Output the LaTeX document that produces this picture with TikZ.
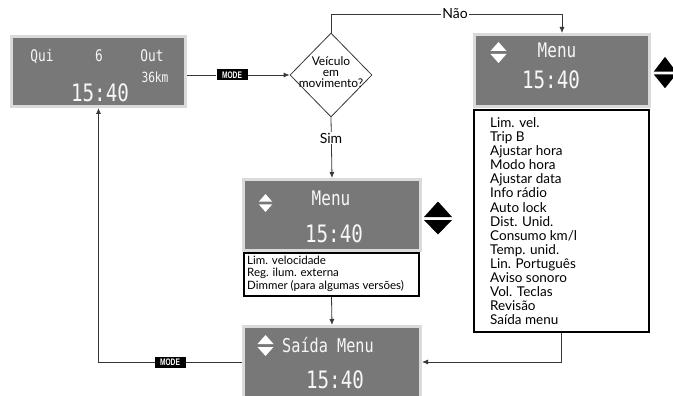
\documentclass[tikz,border=0pt]{standalone}
\usepackage{fontspec}
\setmainfont{Lato}
\newfontfamily\lcd[FakeStretch=0.8]{DejaVu Sans Mono}
\newfontfamily\modefont[FakeStretch=0.7]{Liberation Sans}
\usetikzlibrary{shapes.geometric,arrows.meta,calc}
\definecolor{lcdgray}{RGB}{120,120,120}
\definecolor{rimgray}{RGB}{218,218,218}
\definecolor{linegray}{RGB}{55,55,55}
\tikzset{
  lcdbox/.style={rectangle, fill=lcdgray, draw=rimgray, line width=3pt, inner sep=0},
  listbox/.style={rectangle, draw=black, line width=2pt, fill=white, inner sep=0},
  conn/.style={draw=linegray, line width=0.8pt},
  arr/.style={conn, -{Latex[length=6pt,width=5pt]}},
  modebox/.style={fill=black, text=white, font=\modefont\bfseries\fontsize{9.5}{9.5}\selectfont, minimum width=31pt, minimum height=11pt, inner sep=0},
  lcdtext/.style={text=white!94!gray, inner sep=0},
  lbl/.style={fill=white, inner sep=1pt, font=\fontsize{14}{14}\selectfont},
  smallud/.pic={\fill[white] (-8,-1.5)--(8,-1.5)--(0,-10.5)--cycle;
                \fill[white] (-8,1.5)--(8,1.5)--(0,10.5)--cycle;},
  bigud/.pic={\fill[black] (-14,-1.5)--(14,-1.5)--(0,-17)--cycle;
              \fill[black] (-14,1.5)--(14,1.5)--(0,16)--cycle;}
}
\begin{document}
\begin{tikzpicture}[x=1pt,y=-1pt]
\useasboundingbox (0,0) rectangle (673,396);
\clip (0,0) rectangle (673,396);

% ---------- display 1
\node[lcdbox, minimum width=174pt, minimum height=70pt] (disp1) at (98.5,71.5) {};
\node[lcdtext, font=\lcd\fontsize{16}{16}\selectfont] (qui) at (42,56) {Qui};
\node[lcdtext, font=\lcd\fontsize{16}{16}\selectfont] (six) at (99,56) {6};
\node[lcdtext, font=\lcd\fontsize{16}{16}\selectfont] (out) at (152,56) {Out};
\node[lcdtext, font=\lcd\fontsize{14}{14}\selectfont] (km) at (155,77) {36km};
\node[lcdtext, font=\lcd\fontsize{24}{24}\selectfont] (t1) at (100,93) {15:40};

% ---------- decision
\node[diamond, conn, aspect=0.98, minimum width=82pt, minimum height=84pt, inner sep=0] (dec) at (331,75) {};
\node[align=center, inner sep=0, font=\fontsize{12}{11}\selectfont] (dectext) at (331,72) {Veículo\\em\\movimento?};

% ---------- right menu
\node[lcdbox, minimum width=175pt, minimum height=72pt] (menuR) at (562,70.5) {};
\pic at (498.5,52.5) {smallud};
\node[lcdtext, font=\lcd\fontsize{20}{20}\selectfont] (menuRt) at (557,50) {Menu};
\node[lcdtext, font=\lcd\fontsize{24}{24}\selectfont] (menuRc) at (551,80) {15:40};
\pic[xscale=0.8, yscale=0.95] at (665,73) {bigud};
\node[listbox, minimum width=175pt, minimum height=222pt] (listR) at (561.5,221) {};
\node[anchor=north west, align=left, inner sep=0, font=\fontsize{13.5}{14.07}\selectfont] (listRt) at (490,117.5) {Lim. vel.\\Trip B\\Ajustar hora\\Modo hora\\Ajustar data\\Info rádio\\Auto lock\\Dist. Unid.\\Consumo km/l\\Temp. unid.\\Lin. Português\\Aviso sonoro\\Vol. Teclas\\Revisão\\Saída menu};

% ---------- middle menu
\node[lcdbox, minimum width=177pt, minimum height=71pt] (menuM) at (332,215) {};
\pic[scale=0.85] at (265.5,203) {smallud};
\node[lcdtext, font=\lcd\fontsize{20}{20}\selectfont] (menuMt) at (331,198) {Menu};
\node[lcdtext, font=\lcd\fontsize{24}{24}\selectfont] (menuMc) at (334,234) {15:40};
\pic at (438,218.5) {bigud};
\node[listbox, minimum width=175pt, minimum height=43pt] (listM) at (331.5,274.5) {};
\node[anchor=north west, align=left, inner sep=0, font=\fontsize{11.5}{12.3}\selectfont] (listMt) at (247,256) {Lim. velocidade\\Reg. ilum. externa\\Dimmer (para algumas versões)};

% ---------- saida menu
\node[lcdbox, minimum width=177pt, minimum height=71pt] (saida) at (332,362) {};
\pic at (265.5,345.5) {smallud};
\node[lcdtext, font=\lcd\fontsize{19}{19}\selectfont] (saidat) at (328,345) {Saída Menu};
\node[lcdtext, font=\lcd\fontsize{24}{24}\selectfont] (saidac) at (335,380) {15:40};

% ---------- connectors
\coordinate (topR) at (562,14);
\node[modebox] (mode1) at (232,75) {MODE};
\draw[conn] (disp1.east |- mode1) -- (mode1);
\draw[arr] (mode1) -- (dec.west);
\draw[arr] (dec.north) |- (topR) -- (menuR.north);
\node[lbl] (nao) at (455,14) {Não};
\draw[arr] (dec.south) -- (menuM.north);
\node[lbl] (sim) at (331,138) {Sim};
\draw[arr] (listM.south) -- (saida.north);
\draw[arr] (listR.south) |- (saida.east);
\draw[arr] (saida.west) -| (disp1.south);
\node[modebox] (mode2) at (170,362) {MODE};
\end{tikzpicture}
\end{document}
